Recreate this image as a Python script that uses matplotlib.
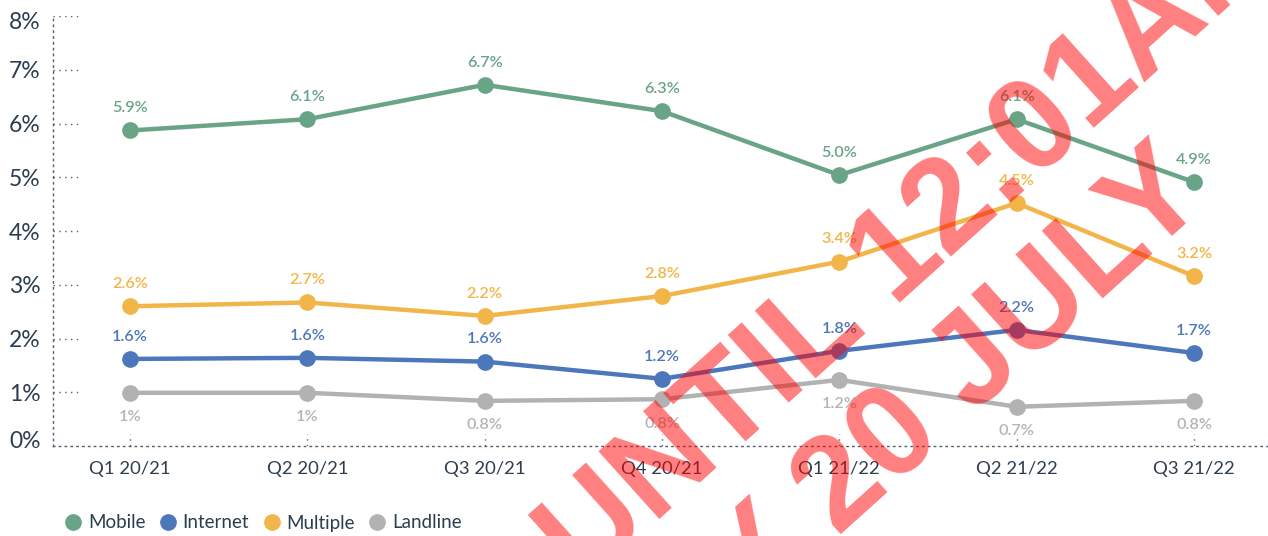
import matplotlib
matplotlib.use("Agg")
import matplotlib.pyplot as plt
import matplotlib.transforms as mtransforms
import numpy as np
from matplotlib.lines import Line2D
from matplotlib.textpath import TextPath
from matplotlib.font_manager import FontProperties

# ---------------- data ----------------
quarters = ["Q1 20/21", "Q2 20/21", "Q3 20/21", "Q4 20/21",
            "Q1 21/22", "Q2 21/22", "Q3 21/22"]
mobile = [5.87, 6.08, 6.72, 6.23, 5.04, 6.08, 4.91]
internet = [1.62, 1.64, 1.57, 1.25, 1.77, 2.16, 1.73]
multiple = [2.60, 2.67, 2.42, 2.79, 3.43, 4.52, 3.16]
landline = [0.99, 0.99, 0.84, 0.87, 1.23, 0.73, 0.84]
mobile_labels = ["5.9%", "6.1%", "6.7%", "6.3%", "5.0%", "6.1%", "4.9%"]
internet_labels = ["1.6%", "1.6%", "1.6%", "1.2%", "1.8%", "2.2%", "1.7%"]
multiple_labels = ["2.6%", "2.7%", "2.2%", "2.8%", "3.4%", "4.5%", "3.2%"]
landline_labels = ["1%", "1%", "0.8%", "0.8%", "1.2%", "0.7%", "0.8%"]
series_names = ["Mobile", "Internet", "Multiple", "Landline"]
y_ticks = [0, 1, 2, 3, 4, 5, 6, 7, 8]
y_tick_labels = ["0%", "1%", "2%", "3%", "4%", "5%", "6%", "7%", "8%"]
watermark_line1 = "EMBARGOED UNTIL 12:01AM"
watermark_line2 = "WEDNESDAY 20 JULY"

# ---------------- style ----------------
C_MOB = "#6aa487"
C_INT = "#4d77bb"
C_MUL = "#f2b54a"
C_LAN = "#b2b2b2"
C_TXT = "#2b3d4f"
C_AX = "#4f5f6f"
FONT = ["Lato", "DejaVu Sans"]
plt.rcParams["font.family"] = FONT

W, H, DPI = 1268, 536, 100
fig = plt.figure(figsize=(W / DPI, H / DPI), dpi=DPI)
ax = fig.add_axes([53 / W, 1 - 446 / H, 1 - 53 / W, (446 - 16) / H])
ax.set_xlim(-0.434, 6.417)
ax.set_ylim(0, 8)
x = np.arange(len(quarters))

series = [
    (mobile, mobile_labels, C_MOB, C_MOB, 16),
    (internet, internet_labels, C_INT, C_INT, 16),
    (multiple, multiple_labels, C_MUL, C_MUL, 16),
    (landline, landline_labels, C_LAN, "#b5b5b5", -17.5),
]
for vals, labs, col, tcol, off in series:
    ax.plot(x, vals, color=col, lw=3.2, marker="o", ms=11,
            solid_capstyle="round", zorder=3)
    for xi, v, lab in zip(x, vals, labs):
        ax.annotate(lab, (xi, v), xytext=(0, off), textcoords="offset points",
                    ha="center", va="center", fontsize=11.7,
                    fontweight="semibold", color=tcol, zorder=4)

# axes styling
for s in ["top", "right"]:
    ax.spines[s].set_visible(False)
for s in ["left", "bottom"]:
    ax.spines[s].set_linestyle((0, (1, 3.2)))
    ax.spines[s].set_linewidth(1.0)
    ax.spines[s].set_color(C_AX)

ax.set_yticks(y_ticks)
ax.set_yticklabels(y_tick_labels)
ax.set_xticks(x)
ax.set_xticklabels(quarters)
ax.tick_params(axis="both", length=0, colors=C_TXT)
ax.tick_params(axis="y", labelsize=16.5, pad=9)
ax.tick_params(axis="x", labelsize=13.3, pad=11)

# small label nudges (0% sits a bit higher, 8% a bit lower in the original)
ylabs = ax.get_yticklabels()
ylabs[0].set_transform(ylabs[0].get_transform() +
                       mtransforms.ScaledTranslation(0, 5 / 72, fig.dpi_scale_trans))
ylabs[-1].set_transform(ylabs[-1].get_transform() +
                        mtransforms.ScaledTranslation(0, -3 / 72, fig.dpi_scale_trans))

# short dotted gridlets at y ticks
ax.hlines(y_ticks[1:], 0, 25 / 1215, transform=ax.get_yaxis_transform(),
          colors=C_AX, linestyles=[(0, (1, 3.2))], lw=1.0, zorder=1)
# small dotted tick marks above x axis
ax.vlines(x, 0.5 / 430 * 8, 12 / 430 * 8, colors=C_AX,
          linestyles=[(0, (1, 3.2))], lw=1.0, zorder=1)

# legend
handles = [Line2D([], [], marker="o", linestyle="none", ms=11, color=c)
           for c in [C_MOB, C_INT, C_MUL, C_LAN]]
leg = fig.legend(handles, series_names, loc="center left",
                 bbox_to_anchor=(64 / W, 1 - 523 / H), ncol=4, frameon=False,
                 fontsize=13.5, handlelength=1.0, handletextpad=0.28,
                 columnspacing=0.7, borderpad=0, borderaxespad=0)
for t in leg.get_texts():
    t.set_color(C_TXT)

# ---------------- watermark ----------------
ANG = 42.0
WM_FS = 94
wm_fp = FontProperties(family=["Liberation Sans", "DejaVu Sans"], weight="bold")
ca, sa = np.cos(np.radians(ANG)), np.sin(np.radians(ANG))

# line 1: end of "UNTIL" lands at a target pixel
tp = TextPath((0, 0), "EMBARGOED UNTIL", size=WM_FS, prop=wm_fp)
w_px = tp.get_extents().x1 * DPI / 72
PLx, PLy = 866, 333
A1x, A1y = PLx - w_px * ca, PLy + w_px * sa
fig.text(A1x / W, 1 - A1y / H, watermark_line1, fontproperties=wm_fp,
         fontsize=WM_FS, color=(1, 0, 0, 0.5), rotation=ANG,
         rotation_mode="anchor", ha="left", va="baseline", zorder=10)

# line 2: right end anchored
A2x, A2y = 1212, 200
fig.text(A2x / W, 1 - A2y / H, watermark_line2, fontproperties=wm_fp,
         fontsize=WM_FS, color=(1, 0, 0, 0.5), rotation=ANG,
         rotation_mode="anchor", ha="right", va="baseline", zorder=10)

fig.savefig("out.png", dpi=DPI)
